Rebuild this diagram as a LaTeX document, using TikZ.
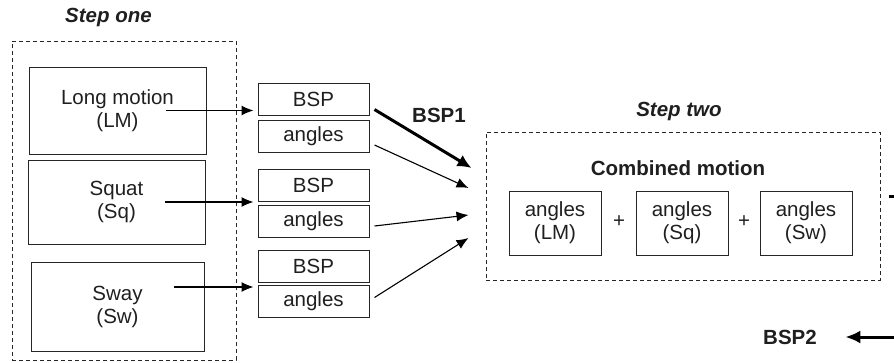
\documentclass[tikz,border=0pt]{standalone}
\usepackage{fontspec}
\setmainfont{Liberation Sans}
\usetikzlibrary{arrows.meta}

\begin{document}
\begin{tikzpicture}[x=1pt,y=-1pt,
    every node/.style={font=\fontsize{20.5}{23}\selectfont, text=black!88, align=center},
    frame/.style={draw=black!85, line width=1pt, dash pattern=on 4pt off 3pt, inner sep=0pt},
    box/.style={draw=black!85, line width=1pt, inner sep=0pt},
    part/.style={box, minimum width=111pt, minimum height=32pt},
    ang/.style={box, minimum width=92pt, minimum height=64pt},
    arr/.style={line width=1.1pt, -{Latex[length=12pt,width=10pt]}},
    bigarr/.style={line width=3pt, -{Latex[length=14pt,width=13pt]}}]
    \useasboundingbox (0,0) rectangle (894,362);
    \node[frame, minimum width=224pt, minimum height=319pt] (one) at (124,200.5) {};
    \node[font=\fontsize{20.5}{23}\selectfont\bfseries\itshape] (oneT) at (108.5,17) {Step one};
    \node[box, minimum width=177pt, minimum height=87pt] (LM) at (117.5,110.5) {Long motion\\(LM)};
    \node[box, minimum width=177pt, minimum height=84pt] (Sq) at (116.5,202) {Squat\\(Sq)};
    \node[box, minimum width=173pt, minimum height=89pt] (Sw) at (117.5,306.5) {Sway\\(Sw)};
    \node[part] (B1) at (313.5,99.5) {BSP};
    \node[part] (A1) at (313.5,136) {angles};
    \node[part] (B2) at (313.5,185) {BSP};
    \node[part] (A2) at (313.5,221) {angles};
    \node[part] (B3) at (313.5,266) {BSP};
    \node[part] (A3) at (313.5,301.5) {angles};
    \coordinate (LMo) at ([xshift=48pt]LM.center);
    \coordinate (Sqo) at ([xshift=48.5pt]Sq.center);
    \coordinate (Swo) at ([xshift=56.5pt,yshift=19.5pt]Sw.center);
    \draw[arr, shorten >=4pt] (LMo) -- (LMo -| B1.west);
    \draw[arr, shorten >=4pt] (Sqo) -- (Sqo -| B2.west);
    \draw[arr, shorten >=4pt] (Swo) -- (Swo -| A3.west);
    \node[frame, minimum width=394pt, minimum height=148pt] (two) at (683,206) {};
    \node[font=\fontsize{20.5}{23}\selectfont\bfseries\itshape] (twoT) at (679,111) {Step two};
    \node[font=\fontsize{20.5}{23}\selectfont\bfseries] (CM) at (678,168) {Combined motion};
    \node[ang] (aLM) at (555,223) {angles\\(LM)};
    \node[ang] (aSq) at (682,223) {angles\\(Sq)};
    \node[ang] (aSw) at (806,223) {angles\\(Sw)};
    \node (p1) at (619,222) {+};
    \node (p2) at (744,222) {+};
    \node[font=\fontsize{20.5}{23}\selectfont\bfseries] (BSP1) at (439,115) {BSP1};
    \draw[bigarr] ([xshift=5pt,yshift=-10pt]B1.east) -- ([xshift=-14pt,yshift=38pt]two.west);
    \draw[arr] ([xshift=5pt,yshift=-9pt]A1.east) -- ([xshift=-17pt,yshift=18pt]two.west);
    \draw[arr] ([xshift=5pt,yshift=-5pt]A2.east) -- ([xshift=-17pt,yshift=-9pt]two.west);
    \draw[arr] ([xshift=5pt,yshift=4pt]A3.east) -- ([xshift=-17pt,yshift=-32pt]two.west);
    \coordinate (exitR) at (910,196);
    \draw[line width=3pt] ([xshift=8pt,yshift=10pt]two.east) -- (exitR);
    \node[font=\fontsize{20.5}{23}\selectfont\bfseries] (BSP2) at (790,337) {BSP2};
    \coordinate (exitB) at (910,337);
    \draw[bigarr, -{Latex[length=15pt,width=13pt]}, shorten >=25pt] (exitB) -- (BSP2.east);
\end{tikzpicture}
\end{document}
